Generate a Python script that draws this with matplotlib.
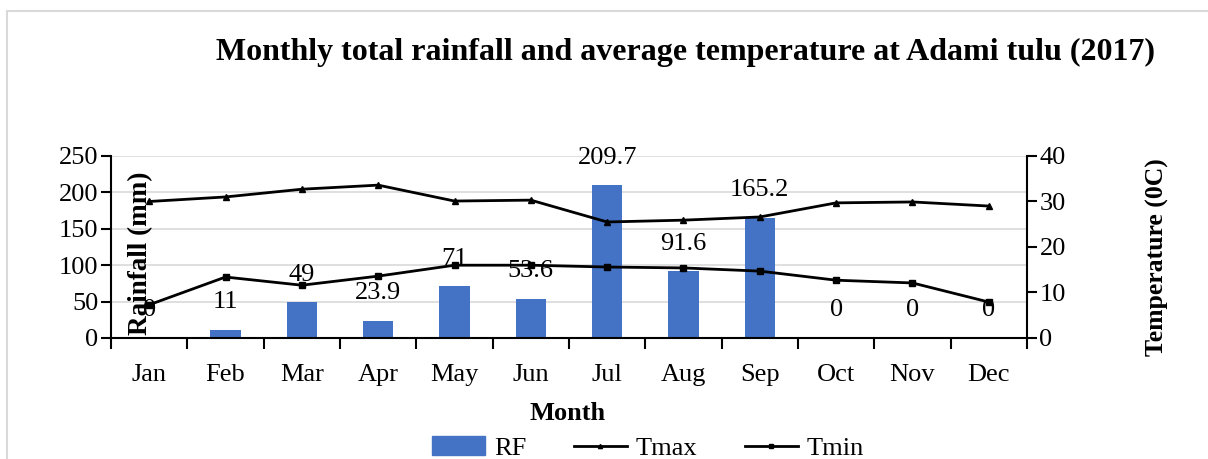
import matplotlib.pyplot as plt
from matplotlib.patches import Rectangle
from matplotlib.lines import Line2D

plt.rcParams['font.family'] = ['Liberation Serif', 'DejaVu Serif']

months = ['Jan', 'Feb', 'Mar', 'Apr', 'May', 'Jun', 'Jul', 'Aug', 'Sep', 'Oct', 'Nov', 'Dec']
rf = [0, 11, 49, 23.9, 71, 53.6, 209.7, 91.6, 165.2, 0, 0, 0]
tmax = [30.0, 31.0, 32.7, 33.6, 30.1, 30.3, 25.5, 25.9, 26.6, 29.7, 29.9, 29.0]
tmin = [7.3, 13.4, 11.6, 13.6, 16.0, 16.0, 15.6, 15.4, 14.7, 12.7, 12.1, 7.9]

fs = 19

fig = plt.figure(figsize=(12.08, 4.59), dpi=100)
ax = fig.add_axes([111 / 1208, 1 - 338 / 459, 916 / 1208, 182 / 459])
ax2 = ax.twinx()

# outer frame
fig.patches.append(Rectangle((7 / 1208, -0.1), 1.2, 1 - 11 / 459 + 0.1,
                             transform=fig.transFigure, fill=False,
                             edgecolor='#d9d9d9', linewidth=1.5))

x = list(range(len(months)))
ax.bar(x, rf, width=0.4, color='#4472C4', zorder=2, label='RF')
for xi, v in zip(x, rf):
    ax.annotate('%g' % v, (xi, v), xytext=(0, 12), textcoords='offset points',
                ha='center', va='bottom', fontsize=fs, zorder=5)

ax.set_xlim(-0.5, 11.5)
ax.set_ylim(0, 250)
ax.set_yticks(range(0, 251, 50))
ax.yaxis.grid(True, color='#d9d9d9', linewidth=1.2, zorder=0)
ax.set_axisbelow(True)
ax.set_xticks(x)
ax.set_xticklabels(months, fontsize=fs)
ax.set_xticks([i + 0.5 for i in range(-1, 12)], minor=True)
ax.tick_params(axis='x', which='major', length=0, pad=19)
ax.tick_params(axis='x', which='minor', length=8, width=1.5, direction='out')
ax.tick_params(axis='y', labelsize=fs, length=7, width=1.5, pad=2)
for s in ['top', 'right']:
    ax.spines[s].set_visible(False)
ax.spines['left'].set_linewidth(1.5)
ax.spines['bottom'].set_linewidth(1.5)

ax2.plot(x, tmax, color='black', linewidth=2, marker='^', markersize=5, label='Tmax', zorder=3)
ax2.plot(x, tmin, color='black', linewidth=2, marker='s', markersize=4, label='Tmin', zorder=3)
ax2.set_ylim(0, 40)
ax2.set_yticks(range(0, 41, 10))
ax2.tick_params(axis='y', labelsize=fs, length=7, width=1.5, pad=2)
for s in ['top', 'left', 'bottom']:
    ax2.spines[s].set_visible(False)
ax2.spines['right'].set_linewidth(1.5)
ax2.set_zorder(ax.get_zorder() + 1)
ax2.patch.set_visible(False)

fig.text(141 / 1208, 1 - 253 / 459, 'Rainfall (mm)', rotation=90, ha='center', va='center',
         fontsize=19.5, fontweight='bold')
fig.text(1157 / 1208, 1 - 257 / 459, 'Temperature (0C)', rotation=90, ha='center', va='center',
         fontsize=18.5, fontweight='bold')
fig.text(685 / 1208, 1 - 52 / 459, 'Monthly total rainfall and average temperature at Adami tulu (2017)',
         ha='center', va='center', fontsize=23, fontweight='bold')
fig.text(568 / 1208, 1 - 413 / 459, 'Month', ha='center', va='center', fontsize=fs, fontweight='bold')

handles = [Rectangle((0, 0), 1, 1, color='#4472C4'),
           Line2D([], [], color='black', linewidth=2, marker='^', markersize=3),
           Line2D([], [], color='black', linewidth=2, marker='s', markersize=3)]
fig.legend(handles, ['RF', 'Tmax', 'Tmin'], loc='center', bbox_to_anchor=(648 / 1208, 1 - 448 / 459),
           ncol=3, frameon=False, fontsize=fs, handlelength=2.0, handleheight=0.75,
           columnspacing=1.8, handletextpad=0.35, borderaxespad=0, borderpad=0)

fig.savefig('out.png', dpi=100)
